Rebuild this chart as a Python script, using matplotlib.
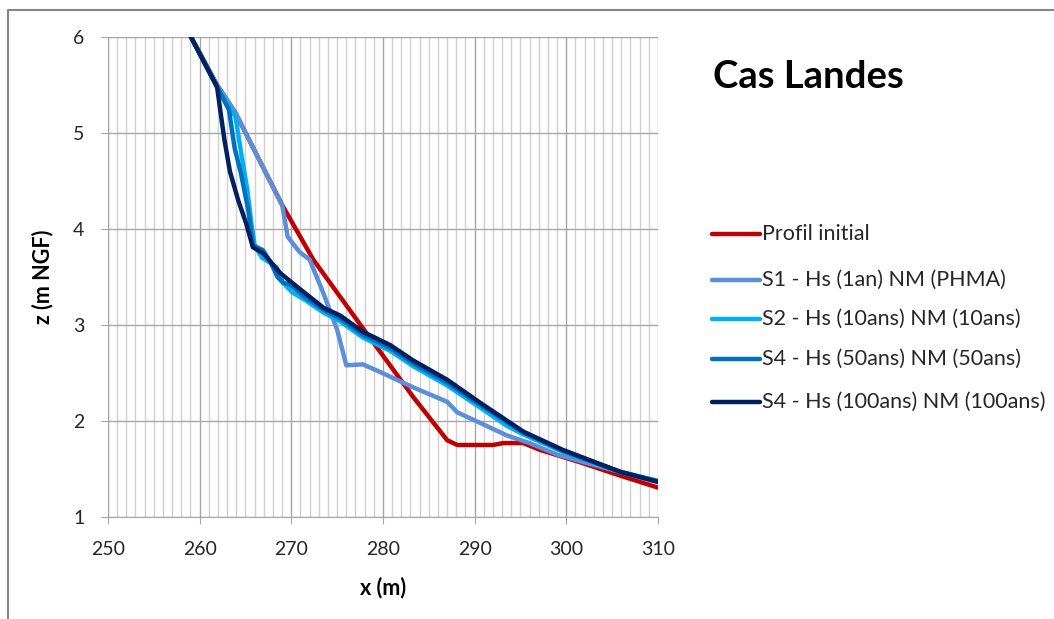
import numpy as np
import matplotlib
matplotlib.use("Agg")
import matplotlib.pyplot as plt
from matplotlib.lines import Line2D
from matplotlib.ticker import MultipleLocator

plt.rcParams['font.family'] = ['Lato', 'DejaVu Sans']

# profils (x en m, z en m NGF)
x_init = [258.5, 261.9, 263.9, 269.0, 272.4, 277.7, 283.3, 287.0, 288.1,
          292.0, 293.1, 295.3, 297.1, 301.5, 305.9, 310.2]
z_init = [6.10, 5.50, 5.21, 4.25, 3.68, 2.98, 2.25, 1.80, 1.75,
          1.75, 1.77, 1.77, 1.70, 1.57, 1.43, 1.30]

x_s1 = [258.5, 261.9, 263.9, 269.0, 269.6, 270.9, 272.0, 273.5, 275.0, 276.0,
        277.8, 279.7, 283.3, 287.0, 288.1, 290.6, 293.5, 296.0, 299.0, 302.3, 310.2]
z_s1 = [6.10, 5.50, 5.21, 4.25, 3.92, 3.76, 3.68, 3.33, 2.95, 2.58,
        2.59, 2.51, 2.35, 2.20, 2.09, 1.98, 1.85, 1.77, 1.65, 1.56, 1.36]

x_s2 = [258.5, 261.9, 263.9, 264.6, 265.2, 265.7, 266.0, 266.8, 267.5, 268.4,
        269.1, 270.1, 271.5, 273.5, 275.3, 277.8, 280.8, 283.3, 287.0, 290.6,
        293.5, 295.3, 299.6, 305.9, 310.2]
z_s2 = [6.10, 5.48, 5.17, 4.75, 4.41, 4.02, 3.83, 3.70, 3.66, 3.60,
        3.44, 3.34, 3.26, 3.13, 3.04, 2.87, 2.73, 2.57, 2.37, 2.14,
        1.95, 1.86, 1.68, 1.47, 1.37]

x_s4_50 = [258.5, 261.9, 263.2, 263.8, 264.5, 265.3, 265.8, 266.9, 267.7, 268.5,
           269.1, 269.9, 271.5, 273.5, 275.3, 277.8, 280.8, 283.3, 287.0, 290.6,
           295.3, 299.6, 305.9, 310.2]
z_s4_50 = [6.10, 5.48, 5.24, 4.85, 4.58, 4.20, 3.83, 3.78, 3.66, 3.50,
           3.44, 3.42, 3.29, 3.16, 3.07, 2.90, 2.76, 2.60, 2.40, 2.17,
           1.88, 1.69, 1.47, 1.37]

x_s4_100 = [258.5, 261.9, 262.3, 262.7, 263.3, 264.2, 265.1, 265.8, 266.9, 268.8,
            270.6, 273.5, 275.3, 277.8, 280.8, 283.3, 287.0, 290.6, 295.3, 299.6,
            305.9, 310.2]
z_s4_100 = [6.10, 5.48, 5.20, 4.93, 4.60, 4.30, 4.05, 3.81, 3.75, 3.54,
            3.40, 3.18, 3.10, 2.93, 2.79, 2.63, 2.43, 2.19, 1.89, 1.70,
            1.47, 1.36]

labels = ["Profil initial",
          "S1 - Hs (1an) NM (PHMA)",
          "S2 - Hs (10ans) NM (10ans)",
          "S4 - Hs (50ans) NM (50ans)",
          "S4 - Hs (100ans) NM (100ans)"]
colors = ["#C00000", "#5B8FD7", "#00B0F0", "#0070C0", "#002060"]
series = [(x_init, z_init), (x_s1, z_s1), (x_s2, z_s2),
          (x_s4_50, z_s4_50), (x_s4_100, z_s4_100)]

W, H = 1054, 619
fig = plt.figure(figsize=(W / 100, H / 100), dpi=100)
ax = fig.add_axes([108 / W, 1 - 517 / H, 550 / W, 480 / H])

for (xs, zs), c in zip(series, colors):
    ax.plot(xs, zs, color=c, lw=3.2, solid_joinstyle='round', solid_capstyle='round')

ax.set_xlim(250, 310)
ax.set_ylim(1, 6)
ax.xaxis.set_major_locator(MultipleLocator(10))
ax.xaxis.set_minor_locator(MultipleLocator(1))
ax.yaxis.set_major_locator(MultipleLocator(1))
ax.grid(which='minor', axis='x', color='#D0D0D0', lw=1.0)
ax.grid(which='major', axis='x', color='#A6A6A6', lw=1.0)
ax.grid(which='major', axis='y', color='#A6A6A6', lw=1.0)
ax.set_axisbelow(True)
for s in ['top', 'right']:
    ax.spines[s].set_visible(False)
for s in ['left', 'bottom']:
    ax.spines[s].set_color('#A6A6A6')
ax.tick_params(which='major', length=5, color='#A6A6A6', labelsize=14,
               labelcolor='#262626')
ax.tick_params(axis='x', pad=12)
ax.tick_params(axis='y', pad=12)
ax.tick_params(which='minor', length=0)

ax.set_xlabel("x (m)", fontsize=15.5, fontweight='bold', labelpad=14)
ax.set_ylabel("z (m NGF)", fontsize=15.5, fontweight='bold', labelpad=14)

# titre
fig.text(713 / W, 1 - 77 / H, "Cas Landes", fontsize=27.5, fontweight='bold',
         ha='left', va='center', color='black')

# légende
leg_y = [234, 280, 319, 359, 402]
for lab, c, y in zip(labels, colors, leg_y):
    fig.add_artist(Line2D([712 / W, 760 / W], [1 - y / H, 1 - y / H],
                          transform=fig.transFigure, color=c, lw=3.2,
                          solid_capstyle='round'))
    fig.text(762 / W, 1 - y / H, lab, fontsize=15.5, ha='left', va='center',
             color='#262626')

# cadre du graphique
fig.add_artist(Line2D([8 / W, 8 / W, 1.0], [0.0, 1 - 10 / H, 1 - 10 / H],
                      transform=fig.transFigure, color='#868686', lw=1.5))

fig.savefig("out.png", dpi=100)
